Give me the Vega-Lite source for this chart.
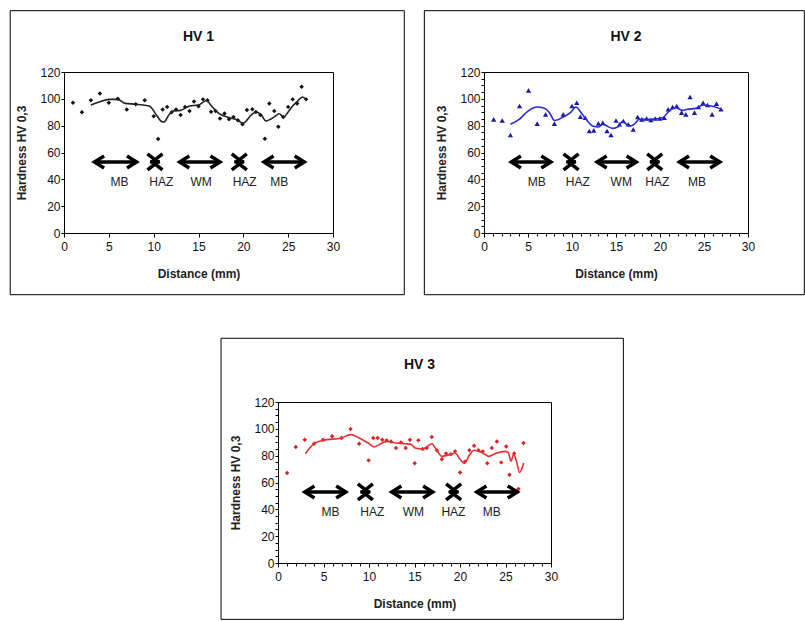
{
  "$schema": "https://vega.github.io/schema/vega-lite/v6.json",
  "background": "white",
  "padding": {"left": 9, "top": 9, "right": 0, "bottom": 0},
  "config": {
    "font": "Liberation Sans",
    "view": {"stroke": "black", "strokeWidth": 1},
    "axis": {"grid": false, "domainColor": "black", "tickColor": "black", "labelColor": "#111", "labelFontSize": 12, "labelFont": "Liberation Sans", "titleFont": "Liberation Sans", "titleFontSize": 12, "titleFontWeight": "bold", "titleColor": "#222", "labelFlush": false, "labelOverlap": false},
    "title": {"fontSize": 14, "fontWeight": "bold", "font": "Liberation Sans", "color": "#111", "offset": -34}
  },
  "datasets": {
    "pts": [
      {"p":1,"x":1,"y":97},{"p":1,"x":2,"y":90},{"p":1,"x":3,"y":99},{"p":1,"x":4,"y":104},{"p":1,"x":5,"y":97},{"p":1,"x":6,"y":100},{"p":1,"x":7,"y":92},{"p":1,"x":8,"y":96},{"p":1,"x":9,"y":99},{"p":1,"x":10,"y":87},{"p":1,"x":10.5,"y":70},{"p":1,"x":11,"y":92},{"p":1,"x":11.5,"y":94},{"p":1,"x":12,"y":90},{"p":1,"x":12.5,"y":92},{"p":1,"x":13,"y":88},{"p":1,"x":13.5,"y":94},{"p":1,"x":14,"y":91},{"p":1,"x":14.5,"y":98},{"p":1,"x":15,"y":94.5},{"p":1,"x":15.5,"y":99.6},{"p":1,"x":16,"y":99},{"p":1,"x":16.4,"y":90.4},{"p":1,"x":16.9,"y":91},{"p":1,"x":17.4,"y":85.4},{"p":1,"x":17.9,"y":89},{"p":1,"x":18.4,"y":84.7},{"p":1,"x":18.9,"y":86.4},{"p":1,"x":19.4,"y":84},{"p":1,"x":19.9,"y":81},{"p":1,"x":20.4,"y":91.7},{"p":1,"x":21,"y":92.2},{"p":1,"x":21.4,"y":90.2},{"p":1,"x":21.9,"y":88},{"p":1,"x":22.4,"y":70.3},{"p":1,"x":22.9,"y":96.6},{"p":1,"x":23.45,"y":91},{"p":1,"x":23.9,"y":79.2},{"p":1,"x":24.45,"y":86.4},{"p":1,"x":25,"y":94},{"p":1,"x":25.5,"y":99.6},{"p":1,"x":26,"y":96.6},{"p":1,"x":26.5,"y":109},{"p":1,"x":27,"y":99.6},
      {"p":2,"x":1.1,"y":84.7},{"p":2,"x":2.07,"y":83.9},{"p":2,"x":3,"y":73},{"p":2,"x":4.04,"y":94.6},{"p":2,"x":5.06,"y":106.3},{"p":2,"x":6.04,"y":81.5},{"p":2,"x":7,"y":88.4},{"p":2,"x":8,"y":81.5},{"p":2,"x":9,"y":88.4},{"p":2,"x":10,"y":94.6},{"p":2,"x":10.54,"y":97.1},{"p":2,"x":10.95,"y":86.7},{"p":2,"x":11.5,"y":85.9},{"p":2,"x":11.97,"y":76},{"p":2,"x":12.47,"y":76.5},{"p":2,"x":13,"y":81.7},{"p":2,"x":13.5,"y":82.2},{"p":2,"x":13.98,"y":76},{"p":2,"x":14.43,"y":73},{"p":2,"x":15,"y":83.9},{"p":2,"x":15.4,"y":81},{"p":2,"x":15.83,"y":83.5},{"p":2,"x":16.4,"y":81},{"p":2,"x":16.96,"y":77.2},{"p":2,"x":17.46,"y":86.4},{"p":2,"x":17.95,"y":84.7},{"p":2,"x":18.48,"y":85.4},{"p":2,"x":18.97,"y":84.2},{"p":2,"x":19.46,"y":85.4},{"p":2,"x":19.99,"y":85.4},{"p":2,"x":20.48,"y":85.9},{"p":2,"x":20.93,"y":92.2},{"p":2,"x":21.43,"y":93.9},{"p":2,"x":21.9,"y":94.6},{"p":2,"x":22.45,"y":89.7},{"p":2,"x":22.94,"y":88.4},{"p":2,"x":23.42,"y":101.4},{"p":2,"x":23.92,"y":89.7},{"p":2,"x":24.38,"y":93.9},{"p":2,"x":24.9,"y":97.1},{"p":2,"x":25.4,"y":95.4},{"p":2,"x":25.92,"y":88.4},{"p":2,"x":26.42,"y":96.4},{"p":2,"x":26.93,"y":92.2},
      {"p":3,"x":1,"y":67},{"p":3,"x":1.95,"y":86.5},{"p":3,"x":2.94,"y":91.9},{"p":3,"x":3.96,"y":88.9},{"p":3,"x":4.96,"y":91.9},{"p":3,"x":5.95,"y":94.4},{"p":3,"x":6.98,"y":93.2},{"p":3,"x":7.97,"y":99.9},{"p":3,"x":8.92,"y":88.9},{"p":3,"x":9.96,"y":76.5},{"p":3,"x":10.46,"y":93.2},{"p":3,"x":10.95,"y":93.2},{"p":3,"x":11.46,"y":91.9},{"p":3,"x":11.94,"y":91.4},{"p":3,"x":12.41,"y":90.6},{"p":3,"x":12.96,"y":85.7},{"p":3,"x":13.51,"y":89.9},{"p":3,"x":14.03,"y":85.7},{"p":3,"x":14.5,"y":91.9},{"p":3,"x":15.02,"y":74.4},{"p":3,"x":15.42,"y":91.4},{"p":3,"x":15.9,"y":85},{"p":3,"x":16.34,"y":85.7},{"p":3,"x":16.9,"y":93.9},{"p":3,"x":17.45,"y":84},{"p":3,"x":18,"y":77.3},{"p":3,"x":18.47,"y":81.7},{"p":3,"x":18.99,"y":81},{"p":3,"x":19.46,"y":83.2},{"p":3,"x":20.01,"y":67.5},{"p":3,"x":20.56,"y":75.7},{"p":3,"x":21.04,"y":84},{"p":3,"x":21.55,"y":87.4},{"p":3,"x":22.03,"y":84},{"p":3,"x":22.5,"y":83.2},{"p":3,"x":23,"y":74.3},{"p":3,"x":23.5,"y":85.7},{"p":3,"x":24.05,"y":90.6},{"p":3,"x":24.53,"y":75},{"p":3,"x":25.08,"y":86.9},{"p":3,"x":25.44,"y":65.8},{"p":3,"x":25.96,"y":81.7},{"p":3,"x":26.43,"y":55.2},{"p":3,"x":26.98,"y":89.4}
    ],
    "line": [
      {"p":1,"x":3,"y":95.4},{"p":1,"x":4,"y":97.9},{"p":1,"x":5,"y":99.6},{"p":1,"x":6,"y":99.6},{"p":1,"x":6.8,"y":96.6},{"p":1,"x":8,"y":96},{"p":1,"x":9.5,"y":94.6},{"p":1,"x":10.3,"y":88},{"p":1,"x":10.8,"y":83.5},{"p":1,"x":11.15,"y":82.7},{"p":1,"x":11.7,"y":88},{"p":1,"x":12.2,"y":91},{"p":1,"x":13,"y":91.4},{"p":1,"x":14,"y":94.6},{"p":1,"x":15,"y":95.4},{"p":1,"x":15.9,"y":98.8},{"p":1,"x":16.4,"y":95},{"p":1,"x":17.3,"y":89},{"p":1,"x":18.4,"y":86},{"p":1,"x":19.4,"y":84},{"p":1,"x":19.95,"y":81.7},{"p":1,"x":20.9,"y":88},{"p":1,"x":21.4,"y":90.2},{"p":1,"x":22,"y":88},{"p":1,"x":22.5,"y":83.5},{"p":1,"x":23.5,"y":86.7},{"p":1,"x":24,"y":88.9},{"p":1,"x":24.5,"y":86.4},{"p":1,"x":25,"y":90.2},{"p":1,"x":25.5,"y":94.6},{"p":1,"x":26,"y":97.9},{"p":1,"x":26.6,"y":101.4},{"p":1,"x":27,"y":99.6},
      {"p":2,"x":3,"y":81},{"p":2,"x":4,"y":84.7},{"p":2,"x":5,"y":90.9},{"p":2,"x":6,"y":93.9},{"p":2,"x":6.87,"y":92.9},{"p":2,"x":7.44,"y":89.7},{"p":2,"x":8,"y":83.9},{"p":2,"x":9,"y":86.4},{"p":2,"x":9.82,"y":89.7},{"p":2,"x":10.46,"y":93.9},{"p":2,"x":11.03,"y":89.7},{"p":2,"x":11.6,"y":84.7},{"p":2,"x":12.36,"y":79.7},{"p":2,"x":13,"y":79},{"p":2,"x":13.49,"y":81},{"p":2,"x":14.63,"y":78},{"p":2,"x":15.19,"y":79},{"p":2,"x":15.76,"y":83},{"p":2,"x":16.5,"y":79.7},{"p":2,"x":17.07,"y":81},{"p":2,"x":17.64,"y":84.7},{"p":2,"x":18.78,"y":84.7},{"p":2,"x":20.3,"y":85.9},{"p":2,"x":21.04,"y":90.9},{"p":2,"x":21.8,"y":93.4},{"p":2,"x":22.56,"y":91.4},{"p":2,"x":23.13,"y":92.2},{"p":2,"x":24.07,"y":92.9},{"p":2,"x":24.9,"y":95.4},{"p":2,"x":25.77,"y":94.6},{"p":2,"x":26.53,"y":93.4},{"p":2,"x":27,"y":92.2},
      {"p":3,"x":3.02,"y":81.5},{"p":3,"x":3.96,"y":88.9},{"p":3,"x":4.96,"y":91.4},{"p":3,"x":6.98,"y":93.2},{"p":3,"x":7.97,"y":95.7},{"p":3,"x":8.92,"y":93.2},{"p":3,"x":9.91,"y":89.4},{"p":3,"x":10.57,"y":86.5},{"p":3,"x":11.09,"y":88.2},{"p":3,"x":11.94,"y":90.6},{"p":3,"x":12.96,"y":89.4},{"p":3,"x":14.03,"y":88.9},{"p":3,"x":14.69,"y":88.2},{"p":3,"x":15.06,"y":85.7},{"p":3,"x":15.9,"y":85},{"p":3,"x":16.41,"y":86.9},{"p":3,"x":16.9,"y":88.9},{"p":3,"x":17.45,"y":84},{"p":3,"x":18,"y":79.5},{"p":3,"x":18.99,"y":81},{"p":3,"x":19.46,"y":82},{"p":3,"x":20.01,"y":77.3},{"p":3,"x":20.45,"y":74.3},{"p":3,"x":21.11,"y":81.2},{"p":3,"x":21.55,"y":84},{"p":3,"x":22.5,"y":82},{"p":3,"x":23.13,"y":79.5},{"p":3,"x":24.05,"y":82},{"p":3,"x":24.97,"y":83.2},{"p":3,"x":25.3,"y":82.4},{"p":3,"x":25.6,"y":76},{"p":3,"x":25.9,"y":81},{"p":3,"x":26.2,"y":76},{"p":3,"x":26.55,"y":67.5},{"p":3,"x":27,"y":74.5}
    ],
    "shaft": [
      {"p":1,"x":3.4,"x2":8.1,"y":53},{"p":1,"x":9.6,"x2":10.7,"y":53},{"p":1,"x":12.9,"x2":17.4,"y":53},{"p":1,"x":19.0,"x2":20.1,"y":53},{"p":1,"x":22.3,"x2":26.8,"y":53},
      {"p":2,"x":3.1,"x2":7.6,"y":53},{"p":2,"x":9.35,"x2":10.45,"y":53},{"p":2,"x":12.85,"x2":17.3,"y":53},{"p":2,"x":18.85,"x2":19.95,"y":53},{"p":2,"x":22.2,"x2":26.8,"y":53},
      {"p":3,"x":2.95,"x2":7.45,"y":53},{"p":3,"x":9.05,"x2":10.15,"y":53},{"p":3,"x":12.5,"x2":17.0,"y":53},{"p":3,"x":18.75,"x2":19.85,"y":53},{"p":3,"x":21.85,"x2":26.3,"y":53}
    ],
    "head": [
      {"p":1,"x":3.4,"y":53,"k":"L"},{"p":1,"x":8.1,"y":53,"k":"R"},{"p":1,"x":10.15,"y":53,"k":"A"},{"p":1,"x":10.15,"y":53,"k":"B"},{"p":1,"x":12.9,"y":53,"k":"L"},{"p":1,"x":17.4,"y":53,"k":"R"},{"p":1,"x":19.55,"y":53,"k":"A"},{"p":1,"x":19.55,"y":53,"k":"B"},{"p":1,"x":22.3,"y":53,"k":"L"},{"p":1,"x":26.8,"y":53,"k":"R"},
      {"p":2,"x":3.1,"y":53,"k":"L"},{"p":2,"x":7.6,"y":53,"k":"R"},{"p":2,"x":9.9,"y":53,"k":"A"},{"p":2,"x":9.9,"y":53,"k":"B"},{"p":2,"x":12.85,"y":53,"k":"L"},{"p":2,"x":17.3,"y":53,"k":"R"},{"p":2,"x":19.4,"y":53,"k":"A"},{"p":2,"x":19.4,"y":53,"k":"B"},{"p":2,"x":22.2,"y":53,"k":"L"},{"p":2,"x":26.8,"y":53,"k":"R"},
      {"p":3,"x":2.95,"y":53,"k":"L"},{"p":3,"x":7.45,"y":53,"k":"R"},{"p":3,"x":9.6,"y":53,"k":"A"},{"p":3,"x":9.6,"y":53,"k":"B"},{"p":3,"x":12.5,"y":53,"k":"L"},{"p":3,"x":17.0,"y":53,"k":"R"},{"p":3,"x":19.3,"y":53,"k":"A"},{"p":3,"x":19.3,"y":53,"k":"B"},{"p":3,"x":21.85,"y":53,"k":"L"},{"p":3,"x":26.3,"y":53,"k":"R"}
    ],
    "lab": [
      {"p":1,"x":6.2,"y":38,"t":"MB"},{"p":1,"x":10.85,"y":38,"t":"HAZ"},{"p":1,"x":15.3,"y":38,"t":"WM"},{"p":1,"x":20.15,"y":38,"t":"HAZ"},{"p":1,"x":24.0,"y":38,"t":"MB"},
      {"p":2,"x":6.0,"y":38,"t":"MB"},{"p":2,"x":10.65,"y":38,"t":"HAZ"},{"p":2,"x":15.6,"y":38,"t":"WM"},{"p":2,"x":19.7,"y":38,"t":"HAZ"},{"p":2,"x":24.2,"y":38,"t":"MB"},
      {"p":3,"x":5.77,"y":38,"t":"MB"},{"p":3,"x":10.36,"y":38,"t":"HAZ"},{"p":3,"x":14.87,"y":38,"t":"WM"},{"p":3,"x":19.28,"y":38,"t":"HAZ"},{"p":3,"x":23.5,"y":38,"t":"MB"}
    ]
  },
  "vconcat": [
    {
      "hconcat": [
        {
          "width": 269, "height": 161,
          "title": {"text": "HV 1"},
          "layer": [
            {"data": {"values": [{}]},
             "mark": {"type": "rect", "fill": "transparent", "stroke": "black", "strokeWidth": 1},
             "encoding": {"x": {"datum": -6.0, "type": "quantitative"}, "x2": {"datum": 37.95}, "y": {"datum": 165.7, "type": "quantitative"}, "y2": {"datum": -46.0}}},
            {"data": {"name": "pts"}, "transform": [{"filter": "datum.p == 1"}],
             "mark": {"type": "point", "shape": "diamond", "filled": true, "size": 20, "color": "#111", "opacity": 1},
             "encoding": {
               "x": {"field": "x", "type": "quantitative", "title": "Distance (mm)", "scale": {"domain": [0, 30], "nice": false},
                     "axis": {"values": [0,5,10,15,20,25,30], "format": "d", "tickCount": 100, "labelOverlap": false, "tickSize": 4, "labelPadding": 4, "titlePadding": 16}},
               "y": {"field": "y", "type": "quantitative", "title": "Hardness HV 0,3", "scale": {"domain": [0, 120], "nice": false},
                     "axis": {"values": [0,20,40,60,80,100,120], "format": "d", "tickCount": 100, "labelOverlap": false, "tickSize": 3, "labelPadding": 1, "titlePadding": 11}}
             }},
            {"data": {"name": "line"}, "transform": [{"filter": "datum.p == 1"}],
             "mark": {"type": "line", "interpolate": "monotone", "color": "#222", "strokeWidth": 1.6},
             "encoding": {"x": {"field": "x", "type": "quantitative"}, "y": {"field": "y", "type": "quantitative"}}},
            {"data": {"name": "shaft"}, "transform": [{"filter": "datum.p == 1"}],
             "mark": {"type": "rule", "color": "black", "strokeWidth": 3.5},
             "encoding": {"x": {"field": "x", "type": "quantitative"}, "x2": {"field": "x2"}, "y": {"field": "y", "type": "quantitative"}}},
            {"data": {"name": "head"}, "transform": [{"filter": "datum.p == 1"}],
             "mark": {"type": "point", "filled": false, "size": 144, "strokeWidth": 3.5, "color": "black", "opacity": 1},
             "encoding": {"x": {"field": "x", "type": "quantitative"}, "y": {"field": "y", "type": "quantitative"},
               "shape": {"field": "k", "type": "nominal", "legend": null, "scale": {"domain": ["L","R","A","B"], "range": ["M1.6,-1L0,0L1.6,1", "M-1.6,-1L0,0L-1.6,1", "M-1.25,-1.35L0.45,0L-1.25,1.35", "M1.25,-1.35L-0.45,0L1.25,1.35"]}}}},
            {"data": {"name": "lab"}, "transform": [{"filter": "datum.p == 1"}],
             "mark": {"type": "text", "fontSize": 12, "color": "#222", "baseline": "middle"},
             "encoding": {"x": {"field": "x", "type": "quantitative"}, "y": {"field": "y", "type": "quantitative"}, "text": {"field": "t"}}}
          ]
        },
        {
          "width": 264, "height": 161,
          "title": {"text": "HV 2", "dx": 10},
          "layer": [
            {"data": {"values": [{}]},
             "mark": {"type": "rect", "fill": "transparent", "stroke": "black", "strokeWidth": 1},
             "encoding": {"x": {"datum": -6.78, "type": "quantitative"}, "x2": {"datum": 36.4}, "y": {"datum": 165.7, "type": "quantitative"}, "y2": {"datum": -46.0}}},
            {"data": {"name": "pts"}, "transform": [{"filter": "datum.p == 2"}],
             "mark": {"type": "point", "shape": "triangle-up", "filled": true, "size": 28, "color": "#1a1aa8", "opacity": 1},
             "encoding": {
               "x": {"field": "x", "type": "quantitative", "title": "Distance (mm)", "scale": {"domain": [0, 30], "nice": false},
                     "axis": {"values": [0,1,2,3,4,5,6,7,8,9,10,11,12,13,14,15,16,17,18,19,20,21,22,23,24,25,26,27,28,29,30], "format": "d", "tickCount": 100, "labelOverlap": false, "labelExpr": "datum.value % 5 === 0 ? datum.label : ''", "tickSize": {"condition": {"test": "datum.value % 5 === 0", "value": 4}, "value": 3}, "labelPadding": 4, "titlePadding": 16}},
               "y": {"field": "y", "type": "quantitative", "title": "Hardness HV 0,3", "scale": {"domain": [0, 120], "nice": false},
                     "axis": {"values": [0,5,10,15,20,25,30,35,40,45,50,55,60,65,70,75,80,85,90,95,100,105,110,115,120], "format": "d", "tickCount": 100, "labelOverlap": false, "labelExpr": "datum.value % 20 === 0 ? datum.label : ''", "tickSize": 3, "labelPadding": 1, "titlePadding": 11}}
             }},
            {"data": {"name": "line"}, "transform": [{"filter": "datum.p == 2"}],
             "mark": {"type": "line", "interpolate": "monotone", "color": "#2a2ad0", "strokeWidth": 1.6},
             "encoding": {"x": {"field": "x", "type": "quantitative"}, "y": {"field": "y", "type": "quantitative"}}},
            {"data": {"name": "shaft"}, "transform": [{"filter": "datum.p == 2"}],
             "mark": {"type": "rule", "color": "black", "strokeWidth": 3.5},
             "encoding": {"x": {"field": "x", "type": "quantitative"}, "x2": {"field": "x2"}, "y": {"field": "y", "type": "quantitative"}}},
            {"data": {"name": "head"}, "transform": [{"filter": "datum.p == 2"}],
             "mark": {"type": "point", "filled": false, "size": 144, "strokeWidth": 3.5, "color": "black", "opacity": 1},
             "encoding": {"x": {"field": "x", "type": "quantitative"}, "y": {"field": "y", "type": "quantitative"},
               "shape": {"field": "k", "type": "nominal", "legend": null, "scale": {"domain": ["L","R","A","B"], "range": ["M1.6,-1L0,0L1.6,1", "M-1.6,-1L0,0L-1.6,1", "M-1.25,-1.35L0.45,0L-1.25,1.35", "M1.25,-1.35L-0.45,0L1.25,1.35"]}}}},
            {"data": {"name": "lab"}, "transform": [{"filter": "datum.p == 2"}],
             "mark": {"type": "text", "fontSize": 12, "color": "#222", "baseline": "middle"},
             "encoding": {"x": {"field": "x", "type": "quantitative"}, "y": {"field": "y", "type": "quantitative"}, "text": {"field": "t"}}}
          ]
        }
      ],
      "spacing": 151,
      "bounds": "flush"
    },
    {
      "hconcat": [
        {
          "width": 204, "height": 161,
          "view": {"stroke": null},
          "data": {"values": []},
          "mark": "point"
        },
        {
          "width": 273, "height": 161,
          "title": {"text": "HV 3", "dx": 5},
          "layer": [
            {"data": {"values": [{}]},
             "mark": {"type": "rect", "fill": "transparent", "stroke": "black", "strokeWidth": 1},
             "encoding": {"x": {"datum": -6.26, "type": "quantitative"}, "x2": {"datum": 37.95}, "y": {"datum": 167.5, "type": "quantitative"}, "y2": {"datum": -42.0}}},
            {"data": {"name": "pts"}, "transform": [{"filter": "datum.p == 3"}],
             "mark": {"type": "point", "shape": "diamond", "filled": true, "size": 20, "color": "#e02020", "opacity": 1},
             "encoding": {
               "x": {"field": "x", "type": "quantitative", "title": "Distance (mm)", "scale": {"domain": [0, 30], "nice": false},
                     "axis": {"values": [0,1,2,3,4,5,6,7,8,9,10,11,12,13,14,15,16,17,18,19,20,21,22,23,24,25,26,27,28,29,30], "format": "d", "tickCount": 100, "labelOverlap": false, "labelExpr": "datum.value % 5 === 0 ? datum.label : ''", "tickSize": {"condition": {"test": "datum.value % 5 === 0", "value": 4}, "value": 3}, "labelPadding": 4, "titlePadding": 16}},
               "y": {"field": "y", "type": "quantitative", "title": "Hardness HV 0,3", "scale": {"domain": [0, 120], "nice": false},
                     "axis": {"values": [0,5,10,15,20,25,30,35,40,45,50,55,60,65,70,75,80,85,90,95,100,105,110,115,120], "format": "d", "tickCount": 100, "labelOverlap": false, "labelExpr": "datum.value % 20 === 0 ? datum.label : ''", "tickSize": 3, "labelPadding": 1, "titlePadding": 11}}
             }},
            {"data": {"name": "line"}, "transform": [{"filter": "datum.p == 3"}],
             "mark": {"type": "line", "interpolate": "monotone", "color": "#e53030", "strokeWidth": 1.6},
             "encoding": {"x": {"field": "x", "type": "quantitative"}, "y": {"field": "y", "type": "quantitative"}}},
            {"data": {"name": "shaft"}, "transform": [{"filter": "datum.p == 3"}],
             "mark": {"type": "rule", "color": "black", "strokeWidth": 3.5},
             "encoding": {"x": {"field": "x", "type": "quantitative"}, "x2": {"field": "x2"}, "y": {"field": "y", "type": "quantitative"}}},
            {"data": {"name": "head"}, "transform": [{"filter": "datum.p == 3"}],
             "mark": {"type": "point", "filled": false, "size": 144, "strokeWidth": 3.5, "color": "black", "opacity": 1},
             "encoding": {"x": {"field": "x", "type": "quantitative"}, "y": {"field": "y", "type": "quantitative"},
               "shape": {"field": "k", "type": "nominal", "legend": null, "scale": {"domain": ["L","R","A","B"], "range": ["M1.6,-1L0,0L1.6,1", "M-1.6,-1L0,0L-1.6,1", "M-1.25,-1.35L0.45,0L-1.25,1.35", "M1.25,-1.35L-0.45,0L1.25,1.35"]}}}},
            {"data": {"name": "lab"}, "transform": [{"filter": "datum.p == 3"}],
             "mark": {"type": "text", "fontSize": 12, "color": "#222", "baseline": "middle"},
             "encoding": {"x": {"field": "x", "type": "quantitative"}, "y": {"field": "y", "type": "quantitative"}, "text": {"field": "t"}}}
          ]
        }
      ],
      "spacing": 10,
      "bounds": "flush"
    }
  ],
  "spacing": 41
}
